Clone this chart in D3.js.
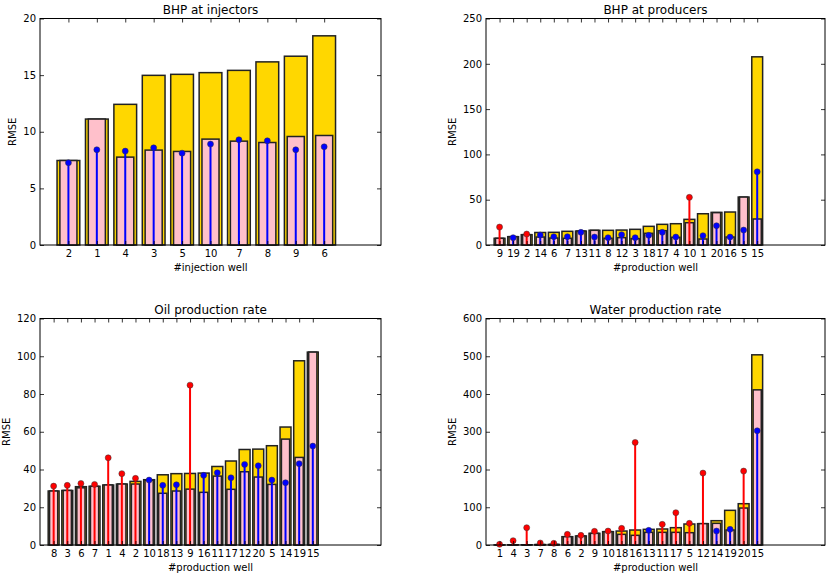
<!DOCTYPE html>
<html>
<head>
<meta charset="utf-8">
<script src="https://cdn.jsdelivr.net/npm/d3@7"></script>
<style>
  body { margin: 0; background: #fff; }
  text { font-family: "DejaVu Sans", sans-serif; }
</style>
</head>
<body>
<div id="chart"></div>
<script>
// BHP at injectors
const injWells = ["2", "1", "4", "3", "5", "10", "7", "8", "9", "6"];
const injBase = [7.46, 11.12, 12.42, 14.98, 15.07, 15.22, 15.42, 16.17, 16.67, 18.47];
const injPink = [7.46, 11.12, 7.76, 8.38, 8.26, 9.35, 9.17, 9.05, 9.58, 9.67];
const injStem = [7.26, 8.41, 8.29, 8.58, 8.11, 8.91, 9.29, 9.2, 8.41, 8.67];

// BHP at producers
const bhpWells = ["9", "19", "2", "14", "6", "7", "13", "11", "8", "12", "3", "18", "17", "4", "10", "1", "20", "16", "5", "15"];
const bhpBase = [7.4, 9.2, 11.4, 13.8, 14.0, 15.1, 15.4, 16.2, 16.2, 16.5, 17.3, 20.6, 22.8, 23.5, 28.3, 34.5, 36.0, 36.4, 52.9, 207.7];
const bhpPink = [7.4, 9.2, 11.4, 8.8, 7.7, 7.4, 15.4, 16.2, 7.4, 8.1, 7.0, 12.9, 15.8, 8.5, 24.6, 6.6, 35.7, 8.8, 52.9, 28.7];
const bhpStem = [19.8, 8.1, 12.1, 11.0, 9.2, 9.2, 14.0, 8.8, 8.1, 11.4, 8.1, 10.7, 14.0, 8.8, 52.6, 10.3, 21.3, 8.8, 16.5, 80.8];

// Oil production rate
const oilWells = ["8", "3", "6", "7", "1", "4", "2", "10", "18", "13", "9", "16", "11", "17", "12", "20", "5", "14", "19", "15"];
const oilBase = [28.6, 28.9, 30.9, 31.1, 31.8, 32.3, 33.7, 34.6, 37.2, 37.8, 37.9, 38.1, 41.6, 44.5, 50.6, 50.8, 52.6, 62.5, 97.6, 102.2];
const oilPink = [28.6, 28.9, 30.3, 31.1, 31.8, 32.3, 32.3, 34.3, 27.4, 28.6, 29.6, 27.9, 36.5, 29.5, 38.8, 36.0, 32.1, 56.1, 46.4, 102.2];
const oilStem = [31.2, 31.6, 32.6, 32.1, 46.2, 37.8, 35.3, 34.4, 31.6, 31.9, 84.7, 36.9, 38.3, 35.6, 42.7, 42.0, 34.4, 33.0, 43.1, 52.4];

// Water production rate
const watWells = ["1", "4", "3", "7", "8", "6", "2", "9", "10", "18", "16", "13", "11", "17", "5", "12", "14", "19", "20", "15"];
const watBase = [0.3, 0.5, 0.6, 1.2, 1.6, 22, 24, 30.9, 35.3, 37, 39.7, 41.5, 42.4, 45.9, 55.6, 56.5, 64.4, 91.8, 109.4, 503.8];
const watPink = [0.3, 0.5, 0.6, 1.2, 1.6, 22, 24, 30.9, 35.3, 28.2, 25.6, 33.5, 33.5, 33.5, 32.6, 56.5, 57.4, 39.7, 97.9, 411];
const watStem = [1.8, 11.5, 45.9, 5.3, 4.4, 28.2, 25.6, 36.2, 37, 44.1, 271.8, 38.8, 54.7, 85.6, 57.4, 190.6, 37, 41.5, 195.9, 302.6];

const panels = [
  { title: "BHP at injectors", xlabel: "#injection well", wells: injWells, base: injBase, pink: injPink, stem: injStem,
    yMax: 20, xMax: 11, left: 40, right: 381, top: 18.5, bottom: 245 },
  { title: "BHP at producers", xlabel: "#production well", wells: bhpWells, base: bhpBase, pink: bhpPink, stem: bhpStem,
    yMax: 250, xMax: 24, left: 486, right: 825, top: 18.5, bottom: 245 },
  { title: "Oil production rate", xlabel: "#production well", wells: oilWells, base: oilBase, pink: oilPink, stem: oilStem,
    yMax: 120, xMax: 24, left: 40, right: 381, top: 318.5, bottom: 545 },
  { title: "Water production rate", xlabel: "#production well", wells: watWells, base: watBase, pink: watPink, stem: watStem,
    yMax: 600, xMax: 24, left: 486, right: 825, top: 318.5, bottom: 545 }
];

const svg = d3.select("#chart").append("svg")
  .attr("width", 830)
  .attr("height", 575);

panels.forEach(p => {
  const w = p.right - p.left;
  const h = p.bottom - p.top;
  const g = svg.append("g").attr("transform", `translate(${p.left},${p.top})`);

  const x = d3.scaleLinear().domain([-1, p.xMax]).range([0, w]);
  const y = d3.scaleLinear().domain([0, p.yMax]).range([h, 0]);
  const idx = d3.range(p.wells.length);
  const unit = x(1) - x(0);

  // yellow bars
  g.selectAll(".base").data(idx).join("rect")
    .attr("x", i => x(i) - unit * 0.4)
    .attr("width", unit * 0.8)
    .attr("y", i => y(p.base[i]))
    .attr("height", i => y(0) - y(p.base[i]))
    .attr("fill", "#FFD700")
    .attr("stroke", "#222")
    .attr("stroke-width", 1.5);

  // pink bars
  g.selectAll(".pink").data(idx).join("rect")
    .attr("x", i => x(i) - unit * 0.3)
    .attr("width", unit * 0.6)
    .attr("y", i => y(p.pink[i]))
    .attr("height", i => y(0) - y(p.pink[i]))
    .attr("fill", "#FFC0CB")
    .attr("stroke", "#222")
    .attr("stroke-width", 1.5);

  // stems: red when above the yellow bar
  const col = i => p.stem[i] > p.base[i] ? "#FF0000" : "#0000FF";
  g.selectAll(".stem").data(idx).join("line")
    .attr("x1", i => x(i)).attr("x2", i => x(i))
    .attr("y1", y(0)).attr("y2", i => y(p.stem[i]))
    .attr("stroke", col)
    .attr("stroke-width", 2);
  g.selectAll(".dot").data(idx).join("circle")
    .attr("cx", i => x(i))
    .attr("cy", i => y(p.stem[i]))
    .attr("r", 3)
    .attr("fill", col)
    .attr("stroke", "#333")
    .attr("stroke-width", 0.5);

  // axes, ticks pointing inward on all sides
  const yt = y.ticks(6);
  const left = g.append("g")
    .call(d3.axisLeft(y).tickValues(yt).tickSize(-4).tickPadding(4));
  g.append("g").attr("transform", `translate(${w},0)`)
    .call(d3.axisRight(y).tickValues(yt).tickSize(-4).tickFormat(""));
  g.append("g").attr("transform", `translate(0,${h})`)
    .call(d3.axisBottom(x).tickValues(idx).tickSize(-4).tickPadding(4.5)
      .tickFormat(i => p.wells[i]));
  g.append("g")
    .call(d3.axisTop(x).tickValues(idx).tickSize(-4).tickFormat(""));

  g.selectAll(".domain").remove();
  g.selectAll(".tick line").attr("stroke", "#000").attr("stroke-width", 0.8);
  g.selectAll(".tick text").attr("font-size", 10).attr("fill", "#000")
    .style("font-family", "'DejaVu Sans', sans-serif");

  g.append("rect")
    .attr("width", w).attr("height", h)
    .attr("fill", "none")
    .attr("stroke", "#000")
    .attr("stroke-width", 1);

  // labels
  let maxW = 0;
  left.selectAll(".tick text").each(function () {
    maxW = Math.max(maxW, this.getBBox().width);
  });

  g.append("text")
    .attr("x", w / 2).attr("y", -5)
    .attr("text-anchor", "middle")
    .attr("font-size", 12)
    .text(p.title);

  g.append("text")
    .attr("x", w / 2).attr("y", h + 26)
    .attr("text-anchor", "middle")
    .attr("font-size", 10)
    .text(p.xlabel);

  g.append("text")
    .attr("transform", `translate(${-(maxW + 4 + 10.5)},${h / 2}) rotate(-90)`)
    .attr("text-anchor", "middle")
    .attr("dy", "0.35em")
    .attr("font-size", 10)
    .text("RMSE");
});
</script>
</body>
</html>
